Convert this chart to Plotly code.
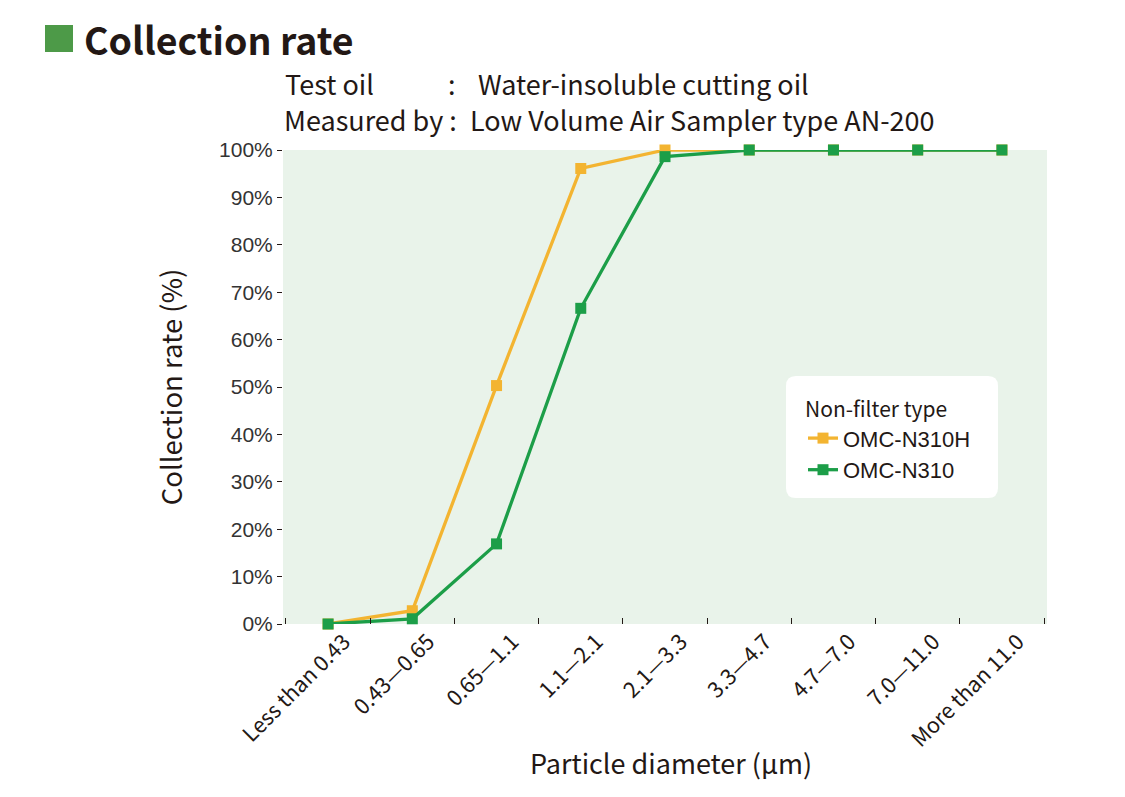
import plotly.graph_objects as go

# --- data ---
categories = ["Less than 0.43", "0.43\u20140.65", "0.65\u20141.1", "1.1\u20142.1", "2.1\u20143.3",
              "3.3\u20144.7", "4.7\u20147.0", "7.0\u201411.0", "More than 11.0"]
n310h = [0, 2.8, 50.3, 96.1, 100, 100, 100, 100, 100]
n310 = [0, 1.1, 16.9, 66.6, 98.6, 100, 100, 100, 100]
y_ticks = [0, 10, 20, 30, 40, 50, 60, 70, 80, 90, 100]
y_labels = [f"{v}%" for v in y_ticks]

W, H = 1125, 797
OFF = 8  # page body margin
L, R, T, B = 283, 1047, 150, 624  # plot area in screenshot pixels

ORANGE = "#f3b431"
GREEN = "#1c9e48"
INK = "#231815"
JP = "Noto Sans CJK JP"
SANS = "Liberation Sans"


def px(x):
    return (x - L) / (R - L)


def py(y):
    return (B - y) / (B - T)


fig = go.Figure()
fig.add_trace(go.Scatter(x=categories, y=n310h, name="OMC-N310H", mode="lines+markers",
                         line=dict(color=ORANGE, width=3.3),
                         marker=dict(symbol="square", size=11, color=ORANGE),
                         cliponaxis=False))
fig.add_trace(go.Scatter(x=categories, y=n310, name="OMC-N310", mode="lines+markers",
                         line=dict(color=GREEN, width=3.3),
                         marker=dict(symbol="square", size=11, color=GREEN),
                         cliponaxis=False))

# rounded legend box
x0, x1, y0, y1, r = 786, 998, 376, 498, 10
path = (f"M {px(x0 + r)} {py(y0)} L {px(x1 - r)} {py(y0)} "
        f"Q {px(x1)} {py(y0)} {px(x1)} {py(y0 + r)} L {px(x1)} {py(y1 - r)} "
        f"Q {px(x1)} {py(y1)} {px(x1 - r)} {py(y1)} L {px(x0 + r)} {py(y1)} "
        f"Q {px(x0)} {py(y1)} {px(x0)} {py(y1 - r)} L {px(x0)} {py(y0 + r)} "
        f"Q {px(x0)} {py(y0)} {px(x0 + r)} {py(y0)} Z")
fig.add_shape(type="path", path=path, xref="paper", yref="paper",
              fillcolor="white", line=dict(width=0), layer="above")
# green square before the heading
fig.add_shape(type="rect", xref="paper", yref="paper",
              x0=px(45), x1=px(73), y0=py(52), y1=py(25),
              fillcolor="#4d9a48", line=dict(width=0))

fig.add_annotation(text="<b>Collection rate</b>", xref="paper", yref="paper",
                   x=px(82), y=py(38), xanchor="left", yanchor="middle", showarrow=False,
                   font=dict(family=JP, size=37.5, color=INK))
sub_font = dict(family=JP, size=27, color=INK)
for txt, xx, yy in [("Test oil", 283, 83), (":", 446, 83), ("Water-insoluble cutting oil", 476, 83),
                    ("Measured by :", 282, 119), ("Low Volume Air Sampler type AN-200", 468, 119)]:
    fig.add_annotation(text=txt, xref="paper", yref="paper", x=px(xx), y=py(yy),
                       xanchor="left", yanchor="middle", showarrow=False, font=sub_font)
# x axis title
fig.add_annotation(text="Particle diameter (\u00b5m)", xref="paper", yref="paper",
                   x=px(671), y=py(762), xanchor="center", yanchor="middle", showarrow=False,
                   font=dict(family=JP, size=27, color=INK))

fig.update_layout(
    width=W, height=H,
    margin=dict(l=L - OFF, r=W - R + OFF, t=T - OFF, b=H - B + OFF),
    paper_bgcolor="white",
    plot_bgcolor="#e9f3ea",
    showlegend=True,
    legend=dict(x=px(803), y=py(390), xanchor="left", yanchor="top",
                bgcolor="rgba(0,0,0,0)", itemwidth=30, tracegroupgap=0,
                title=dict(text="Non-filter type", font=dict(family=JP, size=21, color=INK)),
                font=dict(family=SANS, size=22, color=INK)),
    xaxis=dict(type="category", tickangle=-45, tickson="boundaries", ticks="inside",
               ticklen=6, tickcolor=INK, showgrid=False, zeroline=False, showline=False,
               ticklabelshift=16,
               tickfont=dict(family=JP, size=21.5, color=INK)),
    yaxis=dict(range=[0, 100], tickvals=y_ticks, ticktext=y_labels, ticks="outside",
               ticklen=5, tickcolor=INK, showgrid=False, zeroline=False, showline=False,
               tickfont=dict(family=SANS, size=21, color="#333333"),
               title=dict(text="Collection rate (%)", standoff=28,
                          font=dict(family=JP, size=27.5, color=INK))),
)

fig.write_html("out.html")
